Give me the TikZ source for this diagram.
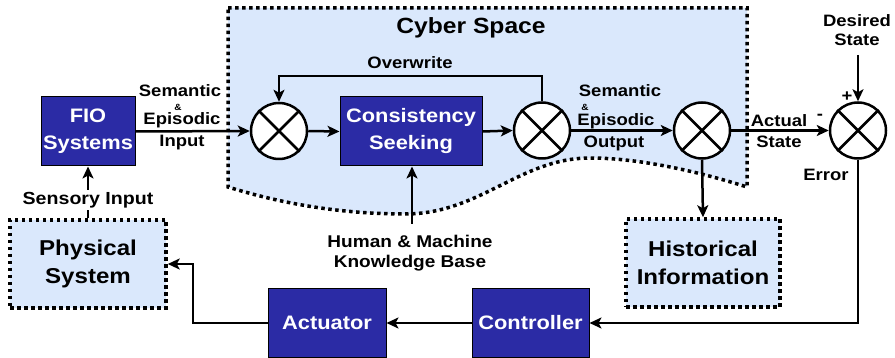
\documentclass[tikz,border=0pt]{standalone}
\usetikzlibrary{arrows.meta}
\usepackage{xcolor}
\usepackage{fontspec}
\setmainfont{Liberation Sans}[FakeStretch=1.12]
\definecolor{boxblue}{HTML}{2B2BA5}
\definecolor{cyberblue}{HTML}{DAE8FC}

\begin{document}
\begin{tikzpicture}[x=1pt, y=-1pt,
    block/.style={draw=black, line width=1pt, fill=boxblue, text=white, align=center, inner sep=0pt,
        font=\fontsize{19.5}{27}\selectfont\bfseries},
    dotbox/.style={draw=black, line width=3.5pt, dash pattern=on 3.5pt off 3.5pt, fill=cyberblue, align=center,
        inner sep=0pt, font=\fontsize{21.5}{28}\selectfont\bfseries},
    mult/.style={circle, draw=black, line width=2.5pt, fill=white, minimum size=56pt, inner sep=0pt},
    lbl/.style={inner sep=0pt, font=\fontsize{16.5}{19}\selectfont\bfseries, align=center},
    amp/.style={inner sep=0pt, font=\fontsize{9}{10}\selectfont\bfseries},
    conn/.style={line width=2.5pt, -{Stealth[length=12pt, width=11pt, inset=3pt]}},
    wire/.style={line width=2.5pt}]
        \useasboundingbox (0,0) rectangle (895,358);
        % cyber space
        \filldraw[fill=cyberblue, draw=black, line width=3.5pt, dash pattern=on 3.5pt off 3.5pt]
            (228,8)--(747,8)--(747,187)
            .. controls (700,172) and (640,158) .. (590,158)
            .. controls (520,158) and (480,214) .. (405,214)
            .. controls (330,214) and (270,200) .. (228,187)--cycle;
        \node[inner sep=0pt, font=\fontsize{22}{26}\selectfont\bfseries] (cyber) at (471,28) {Cyber Space};

        % blocks
        \node[block, minimum width=94pt, minimum height=69pt] (fio) at (88,131.5) {FIO\\Systems};
        \node[block, minimum width=142pt, minimum height=69pt] (seek) at (411,131.5) {Consistency\\Seeking};
        \node[block, minimum width=118pt, minimum height=68pt] (act) at (327,323) {Actuator};
        \node[block, minimum width=117pt, minimum height=68pt] (ctrl) at (530.5,323) {Controller};
        \node[dotbox, minimum width=156pt, minimum height=88pt] (phys) at (88,264) {Physical\\System};
        \node[dotbox, minimum width=154pt, minimum height=88pt] (hist) at (703,263) {Historical\\Information};

        % multipliers
        \node[mult] (m1) at (279,131) {};
        \node[mult] (m2) at (542,130.5) {};
        \node[mult] (m3) at (702,130.5) {};
        \node[mult] (m4) at (858,130.5) {};
        \foreach \m in {m1,m2,m3,m4}
            \draw[wire] (\m.45)--(\m.225) (\m.135)--(\m.-45);

        % labels
        \node[lbl] (semin) at (180,91) {Semantic};
        \node[amp] (ampin) at (178,107.5) {\&};
        \node[lbl] (epiin) at (182,120) {Episodic};
        \node[lbl] (inlbl) at (182,143) {Input};
        \node[lbl] (semout) at (620,91) {Semantic};
        \node[amp] (ampout) at (585,107.5) {\&};
        \node[lbl] (epiout) at (616,121) {Episodic};
        \node[lbl] (outlbl) at (614,143) {Output};
        \node[lbl] (actual) at (779,121) {Actual};
        \node[lbl] (state) at (779,142) {State};
        \node[lbl] (minus) at (820,117) {-};
        \node[lbl] (plus) at (847,97) {+};
        \node[lbl] (err) at (826,175) {Error};
        \node[lbl] (desired) at (857,30.5) {Desired\\State};
        \node[lbl] (over) at (410,63) {Overwrite};
        \node[lbl, inner sep=2pt, font=\fontsize{17.5}{19}\selectfont\bfseries] (sensor) at (88,200) {Sensory Input};
        \node[lbl, font=\fontsize{17}{20}\selectfont\bfseries] (human) at (410,253) {Human \& Machine\\Knowledge Base};
        \coordinate (humtop) at (412,224);
        \coordinate (destop) at (858,55);

        % connectors
        \draw[conn] (fio.east)--(m1.west);
        \draw[conn] (m1.east)--(seek.west);
        \draw[conn] (seek.east)--(m2.west);
        \draw[conn] (m2.east)--(m3.west);
        \draw[conn] (m3.east)--(m4.west);
        \draw[conn] (m2.north)--(542,76)-|(m1.north);
        \draw[conn] (m3.south)--(hist.north);
        \draw[conn] (humtop)--(seek.south -| humtop);
        \draw[conn] (destop)--(m4.north);
        \draw[wire] (phys.north)--(sensor.south);
        \draw[conn] (sensor.north)--(fio.south);
        \draw[conn] (m4.south)|-(ctrl.east);
        \draw[conn] (ctrl.west)--(act.east);
        \draw[conn] (act.west)--(193,323)|-(phys.east);
\end{tikzpicture}
\end{document}
